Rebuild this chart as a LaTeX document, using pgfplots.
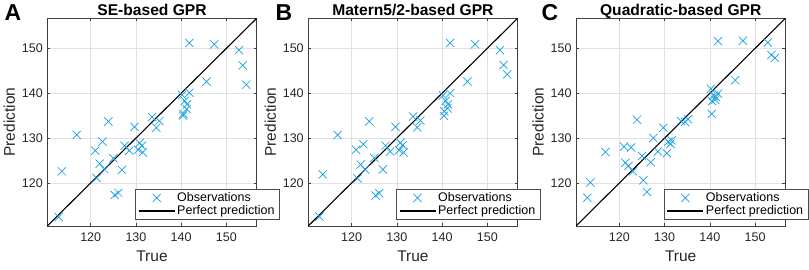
\documentclass[border=0pt]{standalone}
\usepackage{fontspec}
\setmainfont{Liberation Sans}
\usepackage{pgfplots}
\usepackage{pgfplotstable}
\pgfplotsset{compat=1.18}
\definecolor{obs}{RGB}{24,160,228}

\pgfplotstableread{
x A B C
112.9 112.4 112.5 116.7
113.6 122.6 121.9 120.1
116.9 130.7 130.7 126.9
121.0 127.2 127.4 128.1
121.3 121.1 121.0 124.5
122.0 124.3 124.1 123.8
122.6 129.2 128.6 127.9
123.0 123.1 123.0 122.6
123.9 133.7 133.7 134.1
125.0 125.5 125.6 126.0
125.3 117.3 117.2 120.6
126.1 117.8 117.7 118.0
126.9 122.9 123.0 124.6
127.5 128.3 128.3 130.0
128.5 127.2 127.0 127.0
129.7 132.5 132.5 132.3
130.5 127.4 127.3 126.6
130.8 128.9 129.0 129.2
131.3 128.3 128.4 128.7
131.5 126.8 126.8 129.5
133.6 134.7 134.8 133.8
134.5 132.3 132.4 133.6
135.2 133.8 133.9 134.2
140.2 139.6 139.5 141.0
140.4 135.0 135.0 135.4
140.5 135.4 136.0 138.2
140.8 138.3 138.3 139.4
141.2 136.5 136.6 138.5
141.3 137.5 137.5 139.2
141.8 140.1 140.0 139.9
141.8 151.2 151.2 151.6
145.6 142.6 142.6 142.9
147.3 150.9 150.9 151.7
152.8 149.6 149.6 151.3
153.6 146.2 146.3 148.5
154.4 141.9 144.2 147.9
}\data

\pgfplotsset{gpr/.style={
  scale only axis, width=209.4pt, height=207.7pt, anchor=south west,
  xmin=110.4, xmax=156.7, ymin=110.4, ymax=156.7,
  xtick={120,130,140,150}, ytick={120,130,140,150},
  tick align=inside, major tick length=3pt,
  grid=major, grid style={black!12, line width=0.5pt},
  axis line style={black!75, line width=0.6pt},
  tick style={black!75, line width=0.6pt},
  /pgf/number format/assume math mode=true,
  ticklabel style={font=\fontsize{12.5}{14}\selectfont, text=black!85},
  xticklabel style={yshift=-3pt},
  yticklabel style={xshift=-1pt},
  xlabel={True}, ylabel={Prediction},
  label style={font=\fontsize{15.5}{17}\selectfont, text=black!85},
  xlabel style={yshift=-2.5pt},
  title style={font=\bfseries\fontsize{15.6}{18}\selectfont, anchor=base, at={(0.5,1)}, yshift=-2.7pt},
  legend style={at={(1.11,0.029)}, anchor=south east,
    font=\fontsize{12.5}{14}\selectfont, draw=black!70, line width=0.5pt,
    inner xsep=3pt, inner ysep=1.5pt, row sep=-1.5pt},
  legend cell align=left,
}}
\pgfplotsset{diag legend/.style={legend image code/.code={\draw[##1] (3pt,0pt) -- (39pt,0pt);}}}
\pgfplotsset{obs legend/.style={legend image code/.code={\draw[##1] plot coordinates {(21pt,0pt)};}}}

\begin{document}
\begin{tikzpicture}
\path[use as bounding box] (0pt,0pt) rectangle (809pt,269pt);

\begin{axis}[gpr, at={(47.3pt,43pt)}, title={SE-based GPR}]
\addplot[only marks, mark=x, mark size=5.8pt, obs, line width=0.7pt, obs legend] table[x=x,y=A] {\data};
\addlegendentry{Observations}
\addplot[black, line width=1.1pt, diag legend] coordinates {(110.4,110.4) (156.7,156.7)};
\addlegendentry{Perfect prediction}
\end{axis}

\begin{axis}[gpr, at={(308.2pt,43pt)}, title={Matern5/2-based GPR}]
\addplot[only marks, mark=x, mark size=5.8pt, obs, line width=0.7pt, obs legend] table[x=x,y=B] {\data};
\addlegendentry{Observations}
\addplot[black, line width=1.1pt, diag legend] coordinates {(110.4,110.4) (156.7,156.7)};
\addlegendentry{Perfect prediction}
\end{axis}

\begin{axis}[gpr, at={(576pt,43pt)}, title={Quadratic-based GPR}]
\addplot[only marks, mark=x, mark size=5.8pt, obs, line width=0.7pt, obs legend] table[x=x,y=C] {\data};
\addlegendentry{Observations}
\addplot[black, line width=1.1pt, diag legend] coordinates {(110.4,110.4) (156.7,156.7)};
\addlegendentry{Perfect prediction}
\end{axis}

\node[font=\bfseries\fontsize{23}{26}\selectfont] at (13pt,256.5pt) {A};
\node[font=\bfseries\fontsize{23}{26}\selectfont] at (284pt,256.5pt) {B};
\node[font=\bfseries\fontsize{23}{26}\selectfont] at (550pt,256.5pt) {C};
\end{tikzpicture}
\end{document}
